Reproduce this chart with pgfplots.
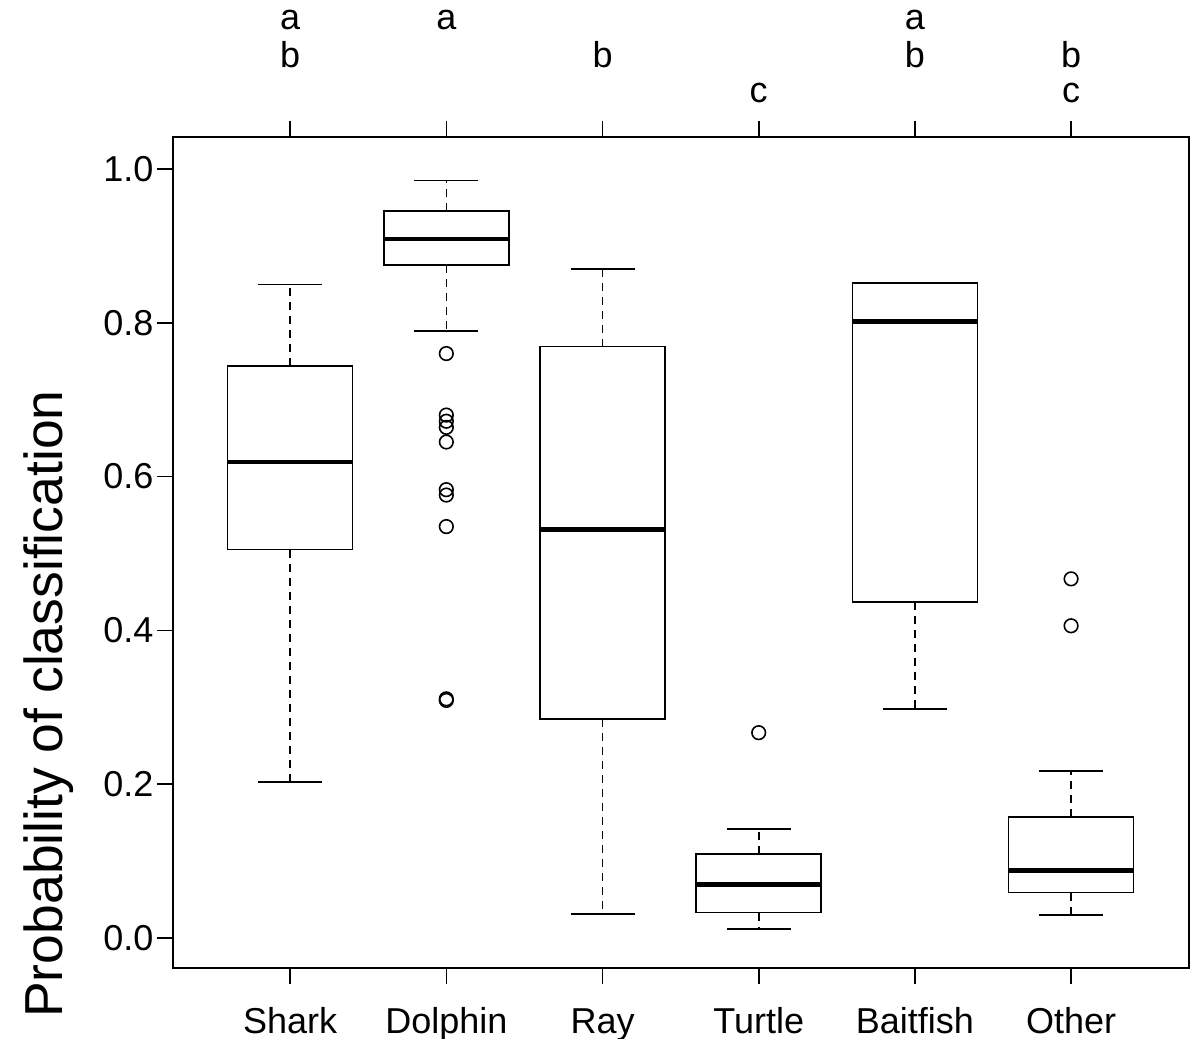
\documentclass[border=0pt]{standalone}
\usepackage{fontspec}
\setmainfont{Liberation Sans}
\usepackage{pgfplots}
\pgfplotsset{compat=1.18}
\usepgfplotslibrary{statistics}

\newcommand{\ticksize}{\fontsize{36}{40}\selectfont}

\pgfplotsset{
  boxplot/draw/lower whisker/.code={%
    \draw[black, line width=1.6pt, dash pattern=on 8pt off 6pt]
      (boxplot cs:\pgfplotsboxplotvalue{lower quartile}) -- (boxplot cs:\pgfplotsboxplotvalue{lower whisker});
    \draw[black, line width=1.6pt, solid]
      (boxplot whisker cs:\pgfplotsboxplotvalue{lower whisker},0) -- (boxplot whisker cs:\pgfplotsboxplotvalue{lower whisker},1);
  },
  boxplot/draw/upper whisker/.code={%
    \draw[black, line width=1.6pt, dash pattern=on 8pt off 6pt]
      (boxplot cs:\pgfplotsboxplotvalue{upper quartile}) -- (boxplot cs:\pgfplotsboxplotvalue{upper whisker});
    \draw[black, line width=1.6pt, solid]
      (boxplot whisker cs:\pgfplotsboxplotvalue{upper whisker},0) -- (boxplot whisker cs:\pgfplotsboxplotvalue{upper whisker},1);
  },
  boxplot/every median/.style={line width=4.8pt},
  bx/.style={black, solid, line width=1.6pt, mark=o, mark size=6.8pt, mark options={solid, line width=1.6pt}},
}

\begin{document}
\begin{tikzpicture}
\begin{axis}[
  name=ax,
  scale only axis,
  width=1016pt, height=831pt,
  xmin=0.25, xmax=6.755,
  ymin=-0.039, ymax=1.0416,
  clip=false,
  xtick={1,2,3,4,5,6},
  xticklabels={Shark,Dolphin,Ray,Turtle,Baitfish,Other},
  xtick pos=both,
  xticklabel pos=lower,
  ytick={0,0.2,0.4,0.6,0.8,1},
  ytick pos=left,
  tick align=outside,
  major tick length=16pt,
  every tick/.style={black, line width=1.6pt},
  axis line style={line width=1.6pt},
  tick label style={font=\ticksize},
  x tick label style={yshift=-20pt, text height=26.3pt, text depth=0pt},
  y tick label style={/pgf/number format/.cd, fixed, fixed zerofill, precision=1, assume math mode=true},
  ylabel={Probability of classification},
  ylabel style={font=\fontsize{53.5}{60}\selectfont, at={(axis description cs:-0.1083,0.3177)}, anchor=base},
  boxplot/draw direction=y,
]
% Shark
\addplot[bx, boxplot prepared={draw position=1, draw direction=y, box extend=0.8, whisker extend=0.41, lower whisker=0.203, lower quartile=0.505, median=0.619, upper quartile=0.744, upper whisker=0.850}] coordinates {};
% Dolphin
\addplot[bx, boxplot prepared={draw position=2, draw direction=y, box extend=0.8, whisker extend=0.41, lower whisker=0.789, lower quartile=0.875, median=0.909, upper quartile=0.945, upper whisker=0.985}]
  table[row sep=\\, y index=0] {0.760\\0.680\\0.672\\0.664\\0.645\\0.583\\0.576\\0.535\\0.311\\0.309\\};
% Ray
\addplot[bx, boxplot prepared={draw position=3, draw direction=y, box extend=0.8, whisker extend=0.41, lower whisker=0.031, lower quartile=0.285, median=0.531, upper quartile=0.769, upper whisker=0.870}] coordinates {};
% Turtle
\addplot[bx, boxplot prepared={draw position=4, draw direction=y, box extend=0.8, whisker extend=0.41, lower whisker=0.012, lower quartile=0.033, median=0.070, upper quartile=0.109, upper whisker=0.142}]
  table[row sep=\\, y index=0] {0.267\\};
% Baitfish
\addplot[bx, boxplot prepared={draw position=5, draw direction=y, box extend=0.8, whisker extend=0.41, lower whisker=0.298, lower quartile=0.437, median=0.802, upper quartile=0.852, upper whisker=0.852}] coordinates {};
% Other
\addplot[bx, boxplot prepared={draw position=6, draw direction=y, box extend=0.8, whisker extend=0.41, lower whisker=0.030, lower quartile=0.059, median=0.0875, upper quartile=0.157, upper whisker=0.217}]
  table[row sep=\\, y index=0] {0.467\\0.406\\};

% significance letters
\node[anchor=base, font=\ticksize] at (axis cs:1,1.1808) {a};
\node[anchor=base, font=\ticksize] at (axis cs:1,1.1326) {b};
\node[anchor=base, font=\ticksize] at (axis cs:2,1.1808) {a};
\node[anchor=base, font=\ticksize] at (axis cs:3,1.1326) {b};
\node[anchor=base, font=\ticksize] at (axis cs:4,1.0871) {c};
\node[anchor=base, font=\ticksize] at (axis cs:5,1.1808) {a};
\node[anchor=base, font=\ticksize] at (axis cs:5,1.1326) {b};
\node[anchor=base, font=\ticksize] at (axis cs:6,1.1326) {b};
\node[anchor=base, font=\ticksize] at (axis cs:6,1.0871) {c};
\end{axis}
\pgfresetboundingbox
\path[use as bounding box] ([shift={(-173pt,-71pt)}]ax.south west) rectangle ([shift={(12pt,137pt)}]ax.north east);
\end{tikzpicture}
\end{document}
